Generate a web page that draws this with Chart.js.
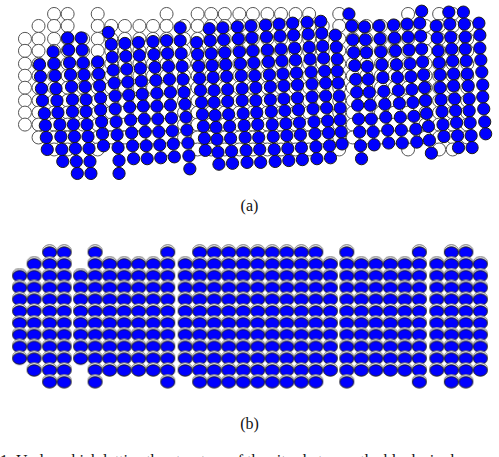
<!DOCTYPE html>
<html>
<head>
<meta charset="utf-8">
<script src="https://cdn.jsdelivr.net/npm/chart.js@4.4.1/dist/chart.umd.min.js"></script>
<style>
html,body{margin:0;padding:0;background:#fff;width:499px;height:457px;overflow:hidden;position:relative;}
canvas{position:absolute;left:0;}
#ca{top:0;}
#cb{top:230px;}
.lab{position:absolute;left:0;width:499px;text-align:center;font-family:"Liberation Serif","DejaVu Serif",serif;font-size:16px;color:#111;}
#la{top:197px;}
#lb{top:415px;}
#cap{position:absolute;left:0;top:452px;white-space:nowrap;font-family:"Liberation Serif","DejaVu Serif",serif;font-size:16px;color:#111;}
</style>
</head>
<body>
<canvas id="ca" width="499" height="192"></canvas>
<canvas id="cb" width="499" height="172"></canvas>
<div class="lab" id="la">(a)</div>
<div class="lab" id="lb">(b)</div>
<div id="cap">1. Under which lattice the structure of the sites between the blocks is shown.</div>
<script>
// ---- lattice structure (shared by both panels): first/last row index per column ----
const rowFrom = [2,1,0,0, 2,0,1,1,1,1,0, 1,0,0,0,0,0,0,0,0,0,1, 0,1,1,1,1,0, 1,0,0,1];
const rowTo   = [9,10,11,11, 9,11,10,10,10,10,11, 10,11,11,11,11,11,11,11,11,11,10, 11,10,10,10,10,11, 10,11,11,10];

// ---- panel (a): initial lattice sites (white) ----
const aColX = [18,32,48,62, 78,93,107,121,136,150,164, 182,196,210,224,239,253,268,282,297,311,325, 342,356,370,385,399,413, 431,445,459,474];
const aRowY = [7,20,34,47,61,74,87,101,114,127,141,154];

// ---- panel (a): displaced particles (blue), one list per column ----
const aBlueX = [
 [33,34,35,36,38,39,40,41],
 [47,48,49,50,51,52,54,55,56,57],
 [62,63,64,65,66,67,67,68,69,70,71,72],
 [76,77,78,79,80,81,81,82,83,84,85,86],
 [93,94,95,96,96,97,98,99],
 [104,107,108,109,110,111,111,112,113,114,115,115],
 [121,122,123,124,125,126,127,128,129,130],
 [135,136,137,138,139,140,141,142,143,144],
 [150,151,152,153,154,154,155,156,157,158],
 [164,165,166,167,168,168,169,170,171,172],
 [178,178,179,180,181,182,183,184,185,186,187,188],
 [195,196,197,198,199,200,201,202,203,204],
 [208,209,210,211,212,213,213,214,215,216,217,218],
 [222,223,224,225,226,227,227,228,229,230,231,232],
 [237,238,239,240,241,242,242,243,244,245,246,247],
 [251,252,253,254,255,256,256,257,258,259,260,261],
 [266,267,268,269,270,271,271,272,273,274,275,276],
 [280,281,282,283,284,285,285,286,287,288,289,290],
 [294,295,296,297,298,299,299,300,301,302,303,304],
 [309,310,311,312,313,314,314,315,316,317,318,319],
 [323,324,325,326,327,328,328,329,330,331,332,333],
 [338,339,340,340,341,342,343,343,344,345],
 [352,355,356,357,358,359,360,361,362,363,364,365],
 [368,369,370,371,372,373,374,375,377,378],
 [383,384,385,386,387,388,389,390,392,393],
 [398,399,400,401,402,403,404,405,406,407],
 [412,413,414,415,416,417,418,419,421,422],
 [427,425,426,427,428,429,430,431,432,434,435,437],
 [442,443,444,445,446,446,447,448,449,450],
 [455,456,457,458,459,460,460,461,462,463,464,465],
 [470,471,472,472,473,474,475,476,476,477,478,479],
 [486,487,487,488,489,490,490,491,492,493]
];
const aBlueY = [
 [62,75,88,101,115,128,141,154],
 [48,61,74,88,101,114,127,140,154,167],
 [33,46,60,73,86,100,113,127,140,153,167,180],
 [33,46,60,73,86,100,113,127,140,153,167,180],
 [59,72,85,98,111,124,137,150],
 [27,40,54,68,82,96,110,124,138,152,166,180],
 [39,53,67,81,95,108,122,136,150,164],
 [38,52,66,80,94,107,121,135,150,164],
 [37,51,65,79,93,107,121,135,149,163],
 [36,50,64,78,92,106,120,134,148,162],
 [22,36,50,64,78,92,105,119,133,147,161,175],
 [38,51,64,77,90,103,116,129,142,155],
 [23,36,50,63,76,90,103,117,130,143,157,170],
 [22,35,49,62,75,89,102,116,129,142,156,169],
 [21,34,48,61,74,88,101,115,128,141,155,168],
 [20,33,47,60,74,87,101,114,127,141,154,168],
 [19,32,46,59,73,86,100,113,127,140,154,167],
 [18,31,45,58,72,85,99,112,126,139,153,166],
 [17,30,44,57,71,84,98,111,125,138,152,165],
 [16,29,43,56,70,83,97,110,124,137,151,164],
 [15,28,42,55,69,82,96,109,123,136,150,163],
 [30,43,56,69,82,96,109,122,135,148],
 [7,20,35,49,63,78,92,106,121,135,150,164],
 [21,35,49,64,78,92,106,121,135,149],
 [20,34,48,62,76,91,105,119,133,147],
 [19,33,47,62,76,90,104,119,133,147],
 [18,32,46,61,75,89,103,118,132,146],
 [4,17,31,45,59,73,87,101,115,129,144,158],
 [20,33,47,60,73,87,100,113,127,140],
 [5,18,32,45,58,72,85,99,112,125,139,152],
 [5,18,32,45,58,72,85,99,112,125,139,152],
 [17,30,44,57,70,84,97,110,124,137]
];

// ---- panel (b): relaxed lattice ----
const bColX = [12,27,43,58, 75,90,105,120,135,150,165, 183,198,213,228,243,258,273,288,303,318,333, 350,365,380,395,410,425, 443,458,473,488];
const bRowY = [246,259,272,285,298,311,324,337,350,363,376,389];

function latticePoints(colX, rowY){
  const pts = [];
  colX.forEach((x,i)=>{ for(let r=rowFrom[i]; r<=rowTo[i]; r++) pts.push({x:x, y:rowY[r]}); });
  return pts;
}
function columnPoints(xs, ys){
  const pts = [];
  xs.forEach((col,i)=>{ col.forEach((x,j)=>pts.push({x:x, y:ys[i][j]})); });
  return pts;
}

function bPointImage(){
  const c = document.createElement('canvas');
  c.width = 17; c.height = 17;
  const g = c.getContext('2d');
  g.lineWidth = 1;
  g.beginPath(); g.ellipse(8.5,6.4,6.9,5.7,0,0,Math.PI*2);
  g.fillStyle = '#ffffff'; g.fill(); g.strokeStyle = '#6e6e6e'; g.stroke();
  g.beginPath(); g.ellipse(8.5,8.5,6.9,5.7,0,0,Math.PI*2);
  g.fillStyle = '#0000ff'; g.fill(); g.strokeStyle = '#141414'; g.stroke();
  return c;
}

function baseOptions(ymin, ymax){
  return {
    responsive:false, animation:false, events:[],
    layout:{padding:0},
    plugins:{legend:{display:false}, tooltip:{enabled:false}},
    scales:{
      x:{type:'linear', min:0, max:499, display:false},
      y:{type:'linear', min:ymin, max:ymax, reverse:true, display:false}
    }
  };
}

new Chart(document.getElementById('ca'), {
  type:'scatter',
  data:{datasets:[
    {label:'displaced', data:columnPoints(aBlueX, aBlueY), order:0, clip:false,
     pointStyle:'circle', pointRadius:6.1, backgroundColor:'#0000ff', borderColor:'#1a1a1a', borderWidth:1},
    {label:'initial', data:latticePoints(aColX, aRowY), order:1, clip:false,
     pointStyle:'circle', pointRadius:6.5, backgroundColor:'#ffffff', borderColor:'#555555', borderWidth:1}
  ]},
  options:baseOptions(0,192)
});

new Chart(document.getElementById('cb'), {
  type:'scatter',
  data:{datasets:[
    {label:'relaxed', data:latticePoints(bColX, bRowY), clip:false,
     pointStyle:bPointImage(), pointRadius:7}
  ]},
  options:baseOptions(230,402)
});
</script>
</body>
</html>
